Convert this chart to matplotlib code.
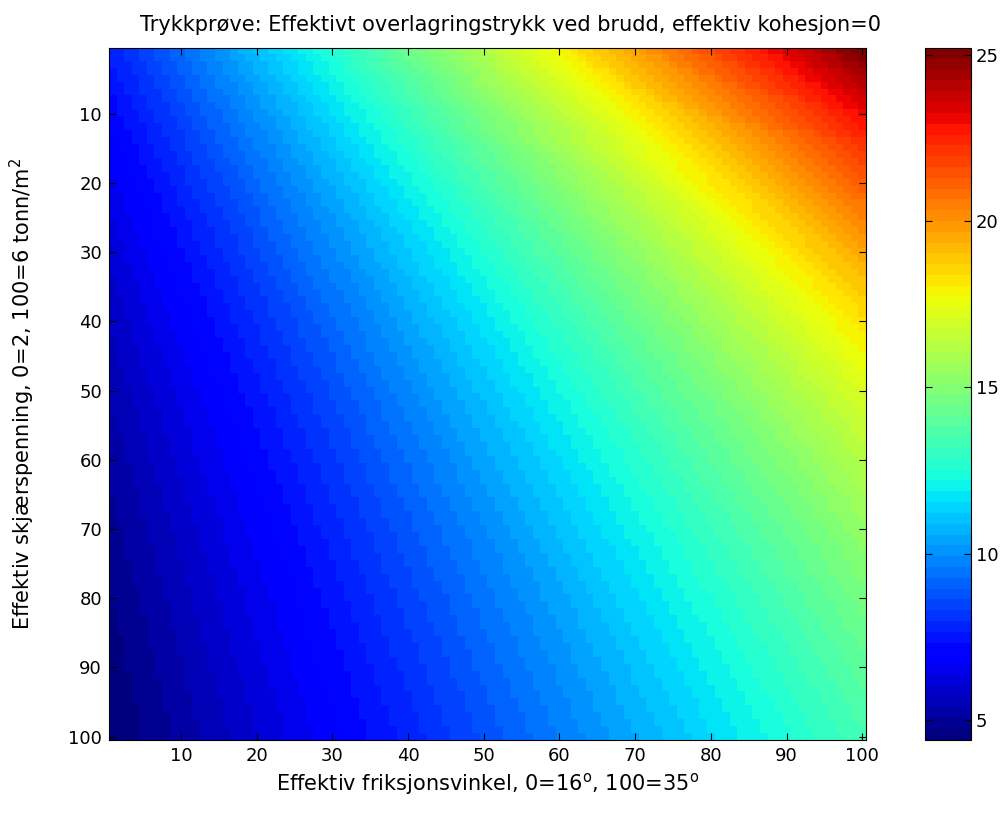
import matplotlib
matplotlib.use('Agg')
import matplotlib.pyplot as plt
import numpy as np

# Grid of the chart (100 x 100 cells); index 0 -> 16 deg / 2 t/m2, index 100 -> 35 deg / 6 t/m2
cells = np.arange(1, 101)
phi_deg = 16 + 0.19 * cells             # rows, top to bottom
tau = 2 + 0.04 * cells                  # columns, left to right

v_min, v_max = 4.4, 25.2
tau_power = 1.15
sin_offset = 0.25

# stress at failure with zero cohesion, shaped to the colour bands of the picture
PHI, TAU = np.meshgrid(np.radians(phi_deg), tau, indexing='ij')
u = TAU ** tau_power * (1 / np.sin(PHI) + sin_offset)
sigma = v_min + (u - u.min()) / (u.max() - u.min()) * (v_max - v_min)

ticks = [10, 20, 30, 40, 50, 60, 70, 80, 90, 100]
cbar_ticks = [5, 10, 15, 20, 25]

plt.rcParams['font.family'] = ['DejaVu Sans']
fs_tick = 13
fs_lab = 15

fig = plt.figure(figsize=(10.08, 8.21), dpi=100)
W, H = 1008, 821
ax = fig.add_axes([109 / W, 1 - 740 / H, (866 - 109) / W, (740 - 48) / H])
cax = fig.add_axes([925 / W, 1 - 740 / H, (971 - 925) / W, (740 - 48) / H])

im = ax.imshow(sigma, cmap=plt.get_cmap('jet', 64), aspect='auto',
               extent=[0.5, 100.5, 100.5, 0.5], interpolation='nearest')
ax.set_xticks(ticks)
ax.set_yticks(ticks)
ax.tick_params(direction='in', top=True, right=True, labelsize=fs_tick, length=5, pad=5)
ax.set_title('Trykkprøve: Effektivt overlagringstrykk ved brudd, effektiv kohesjon=0',
             fontsize=fs_lab, pad=12, x=0.53)
ax.set_xlabel('Effektiv friksjonsvinkel, 0=16$^{\\mathrm{o}}$, 100=35$^{\\mathrm{o}}$', fontsize=fs_lab)
ax.set_ylabel('Effektiv skjærspenning, 0=2, 100=6 tonn/m$^2$', fontsize=fs_lab)
ax.yaxis.set_label_coords(-0.095, 0.5)

cb = fig.colorbar(im, cax=cax)
cb.set_ticks(cbar_ticks)
cax.tick_params(direction='in', left=True, right=True, labelsize=fs_tick, length=5)

plt.savefig('out.png', dpi=100)
